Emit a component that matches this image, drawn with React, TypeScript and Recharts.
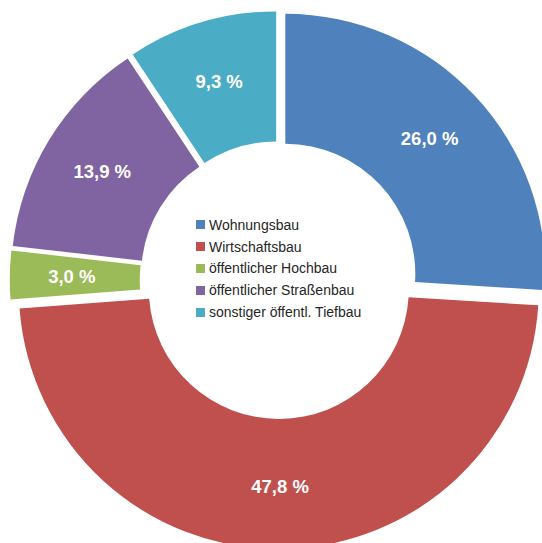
import { Cell, Legend, Pie, PieChart } from 'recharts';

const categories = [
  'Wohnungsbau',
  'Wirtschaftsbau',
  'öffentlicher Hochbau',
  'öffentlicher Straßenbau',
  'sonstiger öffentl. Tiefbau',
];
const shares = [26.0, 47.8, 3.0, 13.9, 9.3];
const colors = ['#4F81BD', '#C0504D', '#9BBB59', '#8064A2', '#4BACC6'];

const data = categories.map((name, i) => ({ name, value: shares[i] }));

const CX = 278.75;
const CY = 280;
const OUTER = 260;
const INNER = 130;
const EXPLODE = 9;
const LABEL_R = 198;
const RAD = Math.PI / 180;

// mid-angle of each slice (recharts degrees, clockwise from 12 o'clock)
const total = shares.reduce((a, b) => a + b, 0);
const midAngles = shares.map((v, i) => {
  const before = shares.slice(0, i).reduce((a, b) => a + b, 0);
  return 90 - ((before + v / 2) / total) * 360;
});
const offsetOf = (i: number) => ({
  dx: EXPLODE * Math.cos(midAngles[i] * RAD),
  dy: -EXPLODE * Math.sin(midAngles[i] * RAD),
});

const fmt = (v: number) => `${v.toFixed(1).replace('.', ',')} %`;

const renderLabel = (props: any) => {
  const { cx, cy, midAngle, index, value } = props;
  const { dx, dy } = offsetOf(index);
  const x = cx + LABEL_R * Math.cos(-midAngle * RAD) + dx;
  const y = cy + LABEL_R * Math.sin(-midAngle * RAD) + dy;
  return (
    <text
      x={x}
      y={y}
      fill="#ffffff"
      textAnchor="middle"
      dominantBaseline="central"
      fontFamily="'Liberation Sans', Arial, sans-serif"
      fontWeight={700}
      fontSize={18.5}
    >
      {fmt(value)}
    </text>
  );
};

const renderLegend = (props: any) => {
  const items = [...(props.payload ?? [])].sort(
    (a: any, b: any) => categories.indexOf(a.value) - categories.indexOf(b.value),
  );
  return (
    <div style={{ fontFamily: "'Liberation Sans', Arial, sans-serif", fontSize: 14, color: '#262626' }}>
      {items.map((entry: any) => (
        <div key={entry.value} style={{ display: 'flex', alignItems: 'center', height: 21.8 }}>
          <span style={{ width: 9, height: 9, background: entry.color, marginRight: 4, display: 'inline-block' }} />
          <span style={{ whiteSpace: 'nowrap' }}>{entry.value}</span>
        </div>
      ))}
    </div>
  );
};

export default function App() {
  return (
    <div style={{ position: 'absolute', left: 0, top: 0, width: 542, height: 543, background: '#ffffff', overflow: 'hidden' }}>
      <PieChart width={542} height={543} margin={{ top: 0, right: 0, bottom: 0, left: 0 }}>
        <Pie
          data={data}
          dataKey="value"
          nameKey="name"
          cx={CX}
          cy={CY}
          innerRadius={INNER}
          outerRadius={OUTER}
          startAngle={90}
          endAngle={-270}
          stroke="none"
          label={renderLabel}
          labelLine={false}
          isAnimationActive={false}
        >
          {data.map((d, i) => {
            const { dx, dy } = offsetOf(i);
            return <Cell key={d.name} fill={colors[i]} transform={`translate(${dx} ${dy})`} />;
          })}
        </Pie>
        <Legend
          layout="vertical"
          align="center"
          verticalAlign="middle"
          content={renderLegend}
          wrapperStyle={{ left: 196, top: 214, width: 'auto', height: 'auto' }}
        />
      </PieChart>
    </div>
  );
}
